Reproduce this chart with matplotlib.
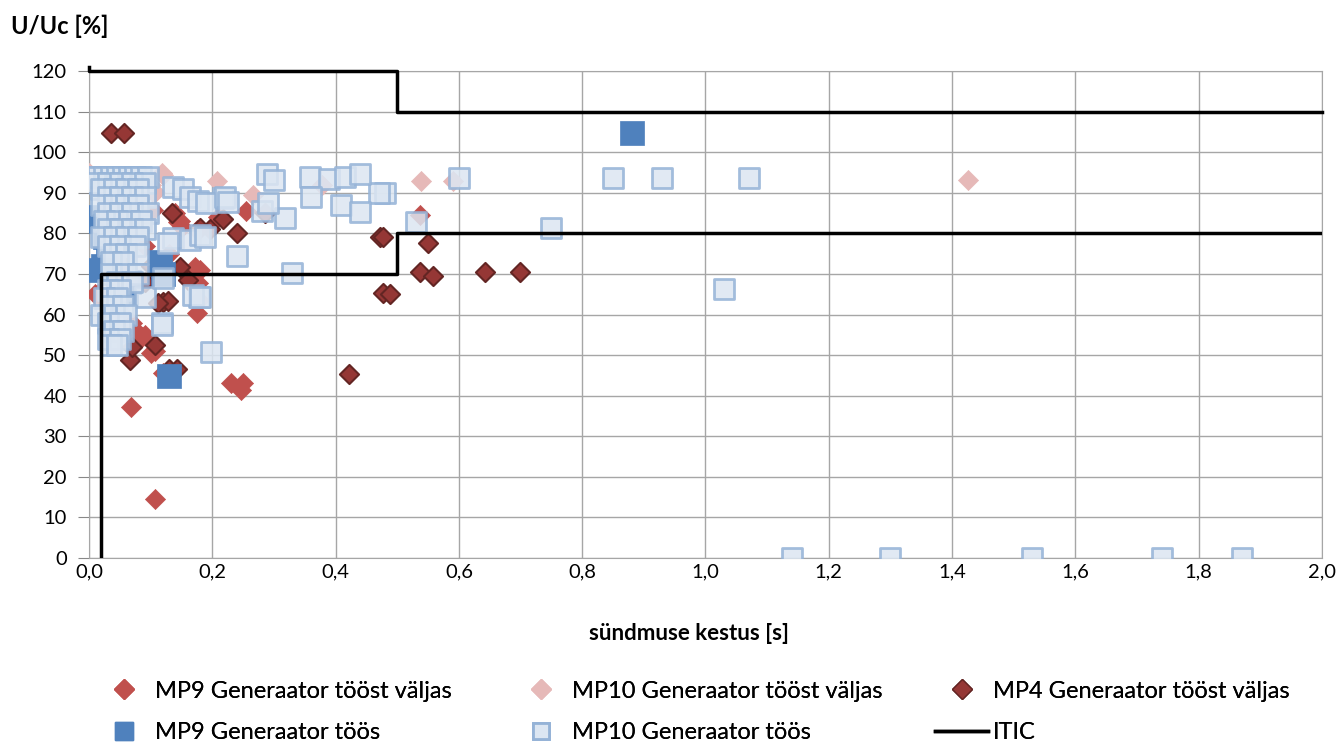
import matplotlib.pyplot as plt
from matplotlib.lines import Line2D

plt.rcParams['font.family'] = ['Lato', 'DejaVu Sans']

# MP9 generaator tööst väljas (s, %)
mp9_off_x = [0.107, 0.068, 0.23, 0.25, 0.247, 0.107, 0.086, 0.175, 0.015, 0.18, 0.178,
             0.255, 0.537, 0.14, 0.148, 0.104, 0.145, 0.15, 0.175, 0.21, 0.172, 0.177,
             0.09, 0.1, 0.01, 0.083, 0.09, 0.12, 0.06, 0.075, 0.13, 0.16, 0.05, 0.07]
mp9_off_y = [14.5, 37.2, 43.1, 43.1, 41.4, 51, 54.4, 60.3, 65, 71, 63.5,
             85.5, 84.5, 85, 83, 85.7, 82.8, 81.5, 80.8, 84, 71.7, 67.7,
             55, 50.5, 65, 55, 77, 45.6, 86, 81, 75, 70, 72, 58]

# MP10 generaator tööst väljas
mp10_off_x = [1.426, 0.59, 0.538, 0.378, 0.207, 0.266, 0.12, 0.105, 0.118, 0.107,
              0.0, 0.02, 0.06, 0.08, 0.04, 0.1]
mp10_off_y = [93.1, 92.9, 92.9, 91.9, 93, 89.4, 94.3, 89.9, 94.8, 90.2,
              94.8, 93, 91, 89, 87, 92]

# MP4 generaator tööst väljas
mp4_off_x = [0.036, 0.057, 0.422, 0.642, 0.699, 0.537, 0.558, 0.55, 0.472, 0.477,
             0.477, 0.488, 0.24, 0.285, 0.217, 0.196, 0.135, 0.18, 0.148, 0.16,
             0.12, 0.128, 0.107, 0.13, 0.143, 0.066, 0.07, 0.112, 0.06, 0.055,
             0.066, 0.09, 0.1, 0.04]
mp4_off_y = [104.7, 104.7, 45.4, 70.4, 70.4, 70.4, 69.5, 77.6, 79, 79,
             65.3, 65, 80.2, 85, 83.5, 81, 85, 81.3, 71.7, 68.5,
             63, 63.3, 52.5, 46.5, 46.5, 48.8, 52, 62.8, 75.4, 80.8,
             83.7, 68, 72, 78]

# MP9 generaator töös
mp9_on_x = [0.881, 0.13, 0.005, 0.01, 0.012, 0.022, 0.03, 0.026, 0.045, 0.065,
            0.115, 0.12, 0.06]
mp9_on_y = [104.7, 44.8, 83, 84, 71, 72, 74, 79, 82, 68,
            73, 70, 65]

# MP10 generaator töös
mp10_on_x = [1.14, 1.30, 1.53, 1.74, 1.87, 1.03, 0.75, 0.85, 0.93, 1.07,
             0.60, 0.53, 0.48, 0.47, 0.289, 0.30, 0.358, 0.39, 0.415, 0.44,
             0.36, 0.408, 0.44, 0.318, 0.28, 0.29, 0.24, 0.33, 0.198, 0.217,
             0.178, 0.137, 0.152, 0.164, 0.177, 0.19, 0.22, 0.225, 0.136, 0.164,
             0.18, 0.128, 0.188, 0.169, 0.18, 0.118, 0.09, 0.12, 0.118,
             # dense group at short durations
             0.005, 0.015, 0.025, 0.035, 0.045, 0.055, 0.065, 0.075, 0.085, 0.095,
             0.01, 0.03, 0.05, 0.07, 0.09,
             0.02, 0.04, 0.06, 0.08,
             0.03, 0.05, 0.07, 0.09,
             0.02, 0.04, 0.06, 0.08,
             0.03, 0.05, 0.07, 0.095,
             0.025, 0.045, 0.065, 0.085,
             0.03, 0.05, 0.07, 0.09,
             0.02, 0.04, 0.06, 0.08,
             0.03, 0.05, 0.075,
             0.04, 0.06, 0.08,
             0.035, 0.055,
             0.035, 0.06, 0.08,
             0.045, 0.07,
             0.03, 0.05,
             0.025, 0.045,
             0.035, 0.055,
             0.02, 0.04, 0.06,
             0.03, 0.05,
             0.04, 0.055,
             0.03, 0.05,
             0.035, 0.045]
mp10_on_y = [0, 0, 0, 0, 0, 66.3, 81.3, 93.6, 93.6, 93.6,
             93.6, 82.8, 90, 90, 94.6, 93.1, 93.9, 93.3, 93.9, 94.6,
             89, 86.9, 85.3, 83.8, 85.5, 87.4, 74.4, 70.3, 50.8, 88.7,
             64.3, 91.4, 91, 89, 88, 87.4, 89, 87.7, 78.8, 78.3,
             79.6, 77.6, 79, 64.8, 64.3, 57.9, 64.3, 69, 57.4,
             94, 94, 94, 94, 94, 94, 94, 94, 94, 94,
             92.5, 92.5, 92.5, 92.5, 92.5,
             91, 91, 91, 91,
             89, 89, 89, 89,
             87, 87, 87, 87,
             85, 85, 85, 85,
             83, 83, 83, 83,
             81, 81, 81, 81,
             79, 79, 79, 79,
             77, 77, 77,
             75, 75, 75,
             73, 73,
             70, 70, 70,
             68, 68,
             66, 66,
             64, 64,
             62, 62,
             60, 60, 60,
             58, 58,
             56, 56,
             54, 54,
             52.5, 52.5]

# ITIC curve
itic_upper_x = [0.0, 0.0, 0.5, 0.5, 2.0]
itic_upper_y = [121, 120, 120, 110, 110]
itic_lower_x = [0.02, 0.02, 0.5, 0.5, 2.0]
itic_lower_y = [0, 70, 70, 80, 80]

c_mp9_off = '#C0504D'
c_mp10_off = '#E6B9B8'
c_mp4_off = '#953735'
c_mp4_edge = '#632523'
c_mp9_on = '#4F81BD'
c_mp10_on_face = '#DCE6F2'
c_mp10_on_edge = '#95B3D7'

fig = plt.figure(figsize=(13.43, 7.44), dpi=100)
ax = fig.add_axes([0.0663, 0.25, 0.918, 0.6545])

ax.scatter(mp9_off_x, mp9_off_y, marker='D', s=105, c=c_mp9_off, edgecolors=c_mp9_off,
           linewidths=0.5, zorder=3)
ax.scatter(mp10_off_x, mp10_off_y, marker='D', s=105, c=c_mp10_off, edgecolors=c_mp10_off,
           linewidths=0.5, zorder=3)
ax.scatter(mp4_off_x, mp4_off_y, marker='D', s=95, c=c_mp4_off, edgecolors=c_mp4_edge,
           linewidths=1.5, zorder=3)
ax.scatter(mp9_on_x, mp9_on_y, marker='s', s=290, c=c_mp9_on, edgecolors=c_mp9_on,
           linewidths=0.5, zorder=4)
ax.scatter(mp10_on_x, mp10_on_y, marker='s', s=190, facecolors=c_mp10_on_face,
           edgecolors=c_mp10_on_edge, linewidths=2, alpha=0.85, zorder=5)

ax.plot(itic_upper_x, itic_upper_y, color='black', lw=2.5, zorder=6, clip_on=False)
ax.plot(itic_lower_x, itic_lower_y, color='black', lw=2.5, zorder=6)

ax.set_xlim(0, 2.0)
ax.set_ylim(0, 120)
ax.set_xticks([i * 0.2 for i in range(11)])
ax.set_xticklabels([f'{i * 0.2:.1f}'.replace('.', ',') for i in range(11)])
ax.set_yticks(range(0, 121, 10))
ax.tick_params(axis='y', labelsize=14.5, color='#888888', length=8, pad=8)
ax.tick_params(axis='x', labelsize=14.5, length=0, pad=4)
ax.grid(True, color='#A6A6A6', lw=1)
ax.set_axisbelow(True)
for s in ax.spines.values():
    s.set_color('#A6A6A6')

fig.text(0.513, 0.149, 'sündmuse kestus [s]', fontsize=16, fontweight='bold',
         ha='center', va='center')
fig.text(0.008, 0.965, 'U/Uc [%]', fontsize=17, fontweight='bold', va='center')

# legend: three columns of two entries
h_mp9_off = Line2D([], [], marker='D', ls='', color=c_mp9_off, markersize=10)
h_mp9_on = Line2D([], [], marker='s', ls='', color=c_mp9_on, markersize=13)
h_mp10_off = Line2D([], [], marker='D', ls='', color=c_mp10_off, markersize=10)
h_mp10_on = Line2D([], [], marker='s', ls='', markerfacecolor=c_mp10_on_face,
                   markeredgecolor=c_mp10_on_edge, markeredgewidth=2, markersize=12)
h_mp4_off = Line2D([], [], marker='D', ls='', markerfacecolor=c_mp4_off,
                   markeredgecolor=c_mp4_edge, markersize=10)
h_itic = Line2D([], [], color='black', lw=2.5)

columns = [
    ([h_mp9_off, h_mp9_on], ['MP9 Generaator tööst väljas', 'MP9 Generaator töös'], 97),
    ([h_mp10_off, h_mp10_on], ['MP10 Generaator tööst väljas', 'MP10 Generaator töös'], 514),
    ([h_mp4_off, h_itic], ['MP4 Generaator tööst väljas', 'ITIC'], 935),
]
for hs, ls, x0 in columns:
    leg = fig.legend(hs, ls, loc='center left', bbox_to_anchor=(x0 / 1343, 0.043),
                     frameon=False, fontsize=17, borderpad=0, borderaxespad=0,
                     handlelength=2.25, handletextpad=0.2, labelspacing=0.87)
    fig.add_artist(leg)

fig.savefig('out.png', dpi=100)
